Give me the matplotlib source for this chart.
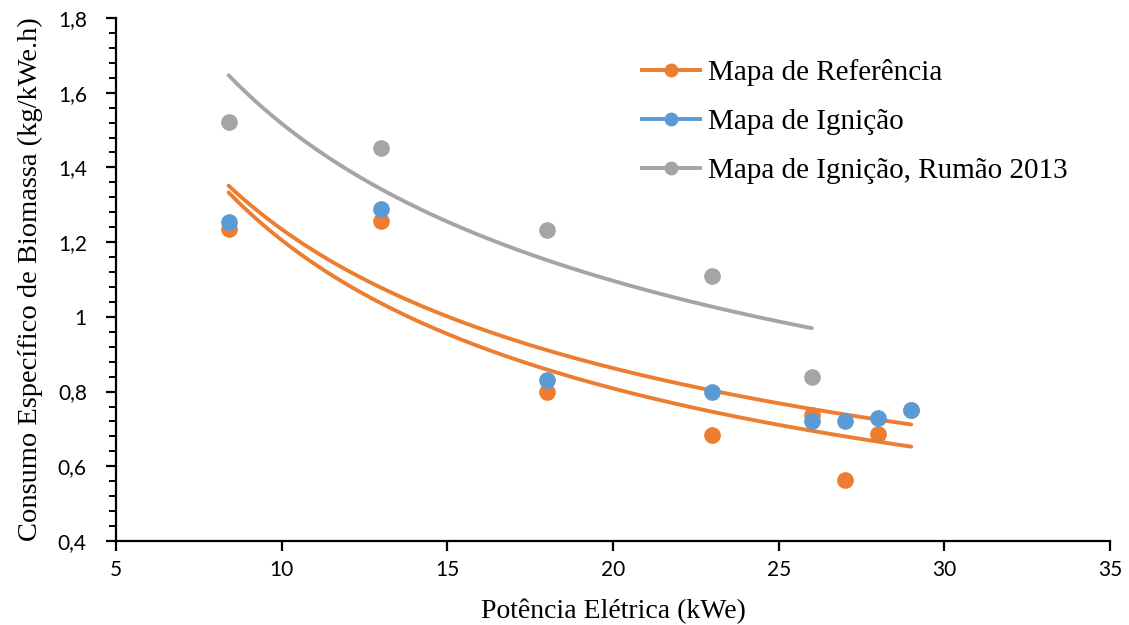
import numpy as np
import matplotlib
matplotlib.use("Agg")
import matplotlib.pyplot as plt
from matplotlib.ticker import MultipleLocator, FuncFormatter

# Measured data: electric power (kWe) vs specific biomass consumption (kg/kWe.h)
pot_ref = [8.4, 13, 18, 23, 26, 27, 28, 29]
cons_ref = [1.235, 1.257, 0.800, 0.684, 0.737, 0.563, 0.686, 0.752]

pot_ign = [8.4, 13, 18, 23, 26, 27, 28, 29]
cons_ign = [1.254, 1.289, 0.831, 0.800, 0.721, 0.721, 0.729, 0.751]

pot_rumao = [8.4, 13, 18, 23, 26]
cons_rumao = [1.522, 1.452, 1.233, 1.109, 0.839]

labels = ["Mapa de Referência", "Mapa de Ignição", "Mapa de Ignição, Rumão 2013"]

ORANGE = "#ED7D31"
BLUE = "#5B9BD5"
GRAY = "#A5A5A5"

SERIF = ["Liberation Serif", "DejaVu Serif"]
TICKFONT = ["Lato", "DejaVu Sans"]


def power_fit(x, y):
    """Least-squares fit of y = a * x**b in log-log space."""
    lx, ly = np.log(x), np.log(y)
    b, ln_a = np.polyfit(lx, ly, 1)
    return np.exp(ln_a), b


fig = plt.figure(figsize=(11.29, 6.25), dpi=100)
ax = fig.add_axes([0.1027, 0.1344, 0.8805, 0.8368])

# Power trendlines
for x, y, col in [(pot_ref, cons_ref, ORANGE),
                  (pot_ign, cons_ign, ORANGE),
                  (pot_rumao, cons_rumao, GRAY)]:
    a, b = power_fit(x, y)
    xs = np.linspace(min(x), max(x), 200)
    ax.plot(xs, a * xs ** b, color=col, lw=2.8, zorder=2, solid_capstyle="round")

# Data points
ax.plot(pot_rumao, cons_rumao, "o", color=GRAY, ms=11, zorder=3)
ax.plot(pot_ref, cons_ref, "o", color=ORANGE, ms=11, zorder=3)
ax.plot(pot_ign, cons_ign, "o", color=BLUE, ms=11, zorder=4)

# Legend entries (line + marker)
handles = [ax.plot([], [], "-o", color=c, lw=2.8, ms=9)[0]
           for c in (ORANGE, BLUE, GRAY)]
leg = fig.legend(handles, labels, loc="upper left",
                 bbox_to_anchor=(0.5455, 0.948), frameon=False,
                 prop={"family": SERIF, "size": 21},
                 handlelength=2.0, handletextpad=0.25, labelspacing=0.78)

ax.set_xlim(5, 35)
ax.set_ylim(0.4, 1.8)
ax.xaxis.set_major_locator(MultipleLocator(5))
ax.yaxis.set_major_locator(MultipleLocator(0.2))
ax.yaxis.set_minor_locator(MultipleLocator(0.04))


def comma_fmt(v, pos):
    s = f"{v:.1f}"
    if s.endswith(".0"):
        s = s[:-2]
    return s.replace(".", ",")


ax.yaxis.set_major_formatter(FuncFormatter(comma_fmt))

for side in ("top", "right"):
    ax.spines[side].set_visible(False)
for side in ("left", "bottom"):
    ax.spines[side].set_linewidth(1.6)
    ax.spines[side].set_color("black")

ax.tick_params(axis="both", which="major", direction="out", length=7,
               width=1.6, labelsize=15)
ax.tick_params(axis="x", which="major", pad=7)
ax.tick_params(axis="y", which="major", pad=14)
ax.tick_params(axis="y", which="minor", direction="out", length=5, width=1.4)
for lab in ax.get_xticklabels() + ax.get_yticklabels():
    lab.set_family(TICKFONT)

ax.set_xlabel("Potência Elétrica (kWe)", family=SERIF, fontsize=20, labelpad=13)
ax.set_ylabel("Consumo Específico de Biomassa (kg/kWe.h)", family=SERIF,
              fontsize=20.5, labelpad=11)

fig.savefig("out.png", dpi=100)
